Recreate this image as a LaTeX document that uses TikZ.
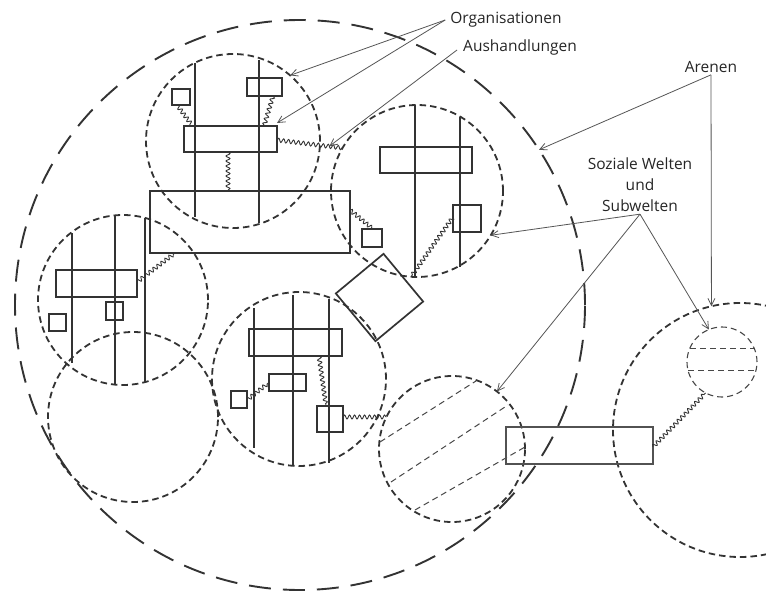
\documentclass[tikz,border=0pt]{standalone}
\usepackage{fontspec}
\setmainfont{Open Sans}
\usetikzlibrary{decorations.pathmorphing,arrows.meta,calc}
\definecolor{ink}{HTML}{333333}
\definecolor{arr}{HTML}{555555}
\begin{document}
\begin{tikzpicture}[x=1pt,y=-1pt,
  world/.style={circle,draw=ink,line width=1.8pt,dash pattern=on 6.5pt off 4pt,inner sep=0pt,outer sep=0pt},
  arena/.style={circle,draw=ink,line width=1.9pt,dash pattern=on 22pt off 12pt,inner sep=0pt,outer sep=0pt},
  subw/.style={circle,draw=ink!90,line width=1.1pt,dash pattern=on 6pt off 4pt,inner sep=0pt,outer sep=0pt},
  box/.style={draw=ink,line width=1.7pt,inner sep=0pt,outer sep=0pt},
  thinbox/.style={draw=ink!85,line width=1.2pt,inner sep=0pt,outer sep=0pt},
  vline/.style={draw=ink,line width=1.3pt},
  chord/.style={draw=ink!90,line width=1.0pt,dash pattern=on 6pt off 4pt},
  wavy/.style={draw=ink,line width=0.9pt,decorate,decoration={snake,amplitude=2pt,segment length=5pt}},
  pointer/.style={draw=arr,line width=0.8pt,-{Straight Barb[length=7pt,width=7pt]}},
  lbl/.style={font=\fontsize{15.5}{21}\selectfont,text=black!85,inner sep=2pt,align=center}
]
\useasboundingbox (0,0) rectangle (766,594);
\fill[white] (0,0) rectangle (766,594);
\clip (0,0) rectangle (766,594);

% circles
\node[arena,minimum size=570pt] (Arena) at (300,305) {};
\node[world,minimum size=174pt] (A) at (233,141) {};
\node[world,minimum size=172pt] (B) at (417,191) {};
\node[world,minimum size=170pt] (C) at (123,300) {};
\node[world,minimum size=170pt] (D) at (133,417) {};
\node[world,minimum size=174pt] (E) at (299,379) {};
\node[world,minimum size=146pt] (F) at (452,449) {};
\node[world,minimum size=254pt] (G) at (740,430) {};
\node[subw,minimum size=70pt] (H) at (722,362) {};

% chords
\draw[chord] (380,442) -- (476,381);
\draw[chord] (391,482) -- (508,405);
\draw[chord] (415,510) -- (525,447);
\draw[chord] (690,348) -- (754,348);
\draw[chord] (688,370) -- (756,370);

% vertical lines
\draw[vline] (195,63) -- (195,217);
\draw[vline] (259,60) -- (259,223);
\draw[vline] (415,105) -- (415,278);
\draw[vline] (460,117) -- (460,267);
\draw[vline] (72,233) -- (72,363);
\draw[vline] (115,216) -- (115,384);
\draw[vline] (145,218) -- (145,383);
\draw[vline] (254,308) -- (254,448);
\draw[vline] (293,295) -- (293,465);
\draw[vline] (329,299) -- (329,463);

% rectangles
\node[box,minimum width=18pt,minimum height=16pt] (Asq) at (181,97) {};
\node[box,minimum width=35pt,minimum height=18pt] (Art) at (264.5,87) {};
\node[box,minimum width=93pt,minimum height=26pt] (Amid) at (230.5,139) {};
\node[box,minimum width=200pt,minimum height=62pt] (Big) at (250,222) {};
\node[box,minimum width=92pt,minimum height=26pt] (Brect) at (426,160) {};
\node[box,minimum width=28pt,minimum height=27pt] (Bsq) at (467,218.5) {};
\node[box,minimum width=20pt,minimum height=18pt] (Bsmall) at (372,238) {};
\node[box,minimum width=81pt,minimum height=27pt] (Crect) at (96.5,283.5) {};
\node[box,minimum width=17pt,minimum height=17pt] (Csq) at (57.5,322.5) {};
\node[box,minimum width=17pt,minimum height=18pt] (Csq2) at (114.5,311) {};
\node[box,minimum width=93pt,minimum height=27pt] (Erect) at (295.5,342.5) {};
\node[box,minimum width=37pt,minimum height=17pt] (Esmall) at (287.5,382.5) {};
\node[box,minimum width=16pt,minimum height=17pt] (EsqL) at (239,399.5) {};
\node[box,minimum width=26pt,minimum height=26pt] (EsqR) at (330,419) {};
\node[thinbox,minimum width=147pt,minimum height=37pt] (Long) at (579.5,445.5) {};
\node[box,minimum width=62pt,minimum height=62pt,rotate=39.7] (Rot) at (379.5,297.5) {};

% wavy negotiations
\draw[wavy] ([xshift=-4pt]Asq.south) -- ([xshift=-38pt]Amid.north);
\draw[wavy] ([xshift=8.5pt]Art.south) -- ([xshift=33.5pt]Amid.north);
\draw[wavy] ([xshift=-2.5pt]Amid.south) -- ([xshift=-22pt]Big.north);
\draw[wavy] ([yshift=-1pt]Amid.east) -- (B.150);
\draw[wavy] ([yshift=-19pt]Big.north east) -- ([xshift=1pt]Bsmall.north);
\draw[wavy] ([yshift=1.5pt]Bsq.west) -- (B.266);
\draw[wavy] ([yshift=1.5pt]Crect.east) -- ([xshift=25pt]Big.south west);
\draw[wavy] ([yshift=-0.5pt]EsqL.east) -- (Esmall.west);
\draw[wavy] ([xshift=23.5pt]Erect.south) -- ([xshift=-4pt]EsqR.north);
\draw[wavy] ([yshift=2pt]EsqR.east) -- (F.154);
\draw[wavy] ([yshift=-1.5pt]Long.east) -- (H.242);

% labels
\node[lbl] (Org) at (506,20) {Organisationen};
\node[lbl] (Aus) at (520,47) {Aushandlungen};
\node[lbl] (Are) at (711,67) {Arenen};
\node[lbl] (Soz) at (640,185) {Soziale Welten\\und\\Subwelten};

% pointers
\draw[pointer] ([xshift=-3pt]Org.west) -- (A.49);
\draw[pointer] ([xshift=-3pt]Org.west) -- ([yshift=3pt]Amid.north east);
\draw[pointer] ([xshift=-4pt,yshift=-3pt]Aus.west) -- ($(Amid.east)!0.8!(B.150)$);
\draw[pointer] (Are.south) -- (Arena.33);
\draw[pointer] (Are.south) -- (G.103);
\draw[pointer] (Soz.south) -- (B.-31);
\draw[pointer] (Soz.south) -- (H.112);
\draw[pointer] (Soz.south) -- (F.52);
\end{tikzpicture}
\end{document}
